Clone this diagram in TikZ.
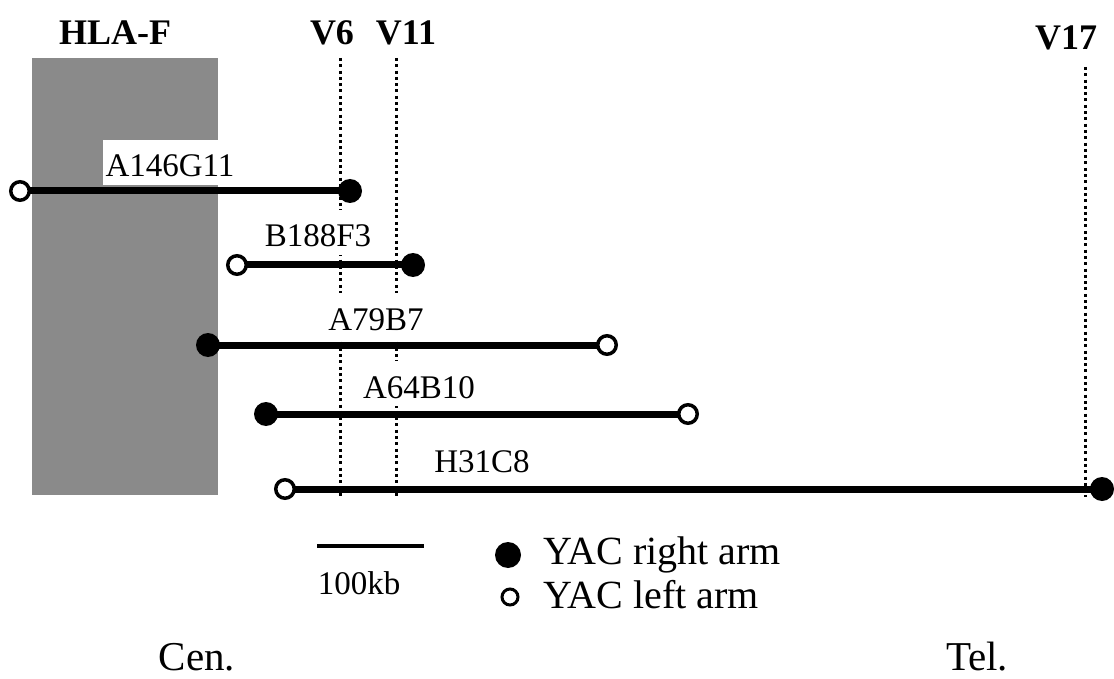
\documentclass[tikz,border=0pt]{standalone}
\usepackage{fontspec}
\setmainfont{Liberation Serif}
\pgfdeclarelayer{paper}
\pgfdeclarelayer{back}
\pgfdeclarelayer{mid}
\pgfsetlayers{paper,back,mid,main}
\definecolor{hlagray}{RGB}{138,138,138}
\tikzset{
  hdr/.style={anchor=base, font=\fontsize{36}{36}\selectfont\bfseries, inner sep=0pt},
  lbl/.style={anchor=base, fill=white, font=\fontsize{33}{33}\selectfont,
              text height=33pt, text depth=4pt, inner ysep=4pt, inner xsep=3pt},
  vline/.style={line width=3pt, dash pattern=on 3pt off 3.3pt},
  yac/.style={line width=7pt},
  rarm/.style={circle, fill=black, minimum size=24pt, inner sep=0pt},
  larm/.style={circle, draw=black, fill=white, line width=3.5pt, minimum size=18.5pt, inner sep=0pt},
  leg/.style={anchor=base west, font=\fontsize{40}{40}\selectfont, inner sep=0pt},
  endlbl/.style={anchor=base, font=\fontsize{41}{41}\selectfont, inner sep=0pt}
}
\begin{document}
\begin{tikzpicture}[x=1pt, y=-1pt]
\useasboundingbox (0,0) rectangle (1114,679);
\begin{pgfonlayer}{paper}
  \fill[white] (0,0) rectangle (1114,679);
\end{pgfonlayer}

% header labels
\node[hdr] (hla) at (115,45) {HLA-F};
\node[hdr] (v6) at (332,45) {V6};
\node[hdr] (v11) at (406,45) {V11};
\node[hdr] (v17) at (1066,50) {V17};

% marker coordinates
\coordinate (v6t) at (340,58);  \coordinate (v6b) at (340,497);
\coordinate (v11t) at (396,58); \coordinate (v11b) at (396,497);
\coordinate (v17t) at (1085,67); \coordinate (v17b) at (1085,497);

\begin{pgfonlayer}{back}
  \fill[hlagray] (32,58) rectangle (218,495);
  \draw[vline] (v6t) -- (v6b);
  \draw[vline] (v11t) -- (v11b);
  \draw[vline] (v17t) -- (v17b);
  \node[lbl] (lA146) at (170,177) {A146G11};
  \node[lbl] (lB188) at (318,247) {B188F3};
  \node[lbl] (lA79) at (376,330) {A79B7};
  \node[lbl] (lA64) at (419,398) {A64B10};
  \node[lbl] (lH31) at (482,472) {H31C8};
\end{pgfonlayer}

% YAC ends
\node[larm] (a146l) at (20,191) {};
\node[rarm] (a146r) at (350,191) {};
\node[larm] (b188l) at (237,265) {};
\node[rarm] (b188r) at (413,265) {};
\node[rarm] (a79r) at (208,345) {};
\node[larm] (a79l) at (607,345) {};
\node[rarm] (a64r) at (266,414) {};
\node[larm] (a64l) at (688,414) {};
\node[larm] (h31l) at (285,489) {};
\node[rarm] (h31r) at (1102,489) {};

\begin{pgfonlayer}{mid}
  \draw[yac] (a146l.center) -- (a146r.center);
  \draw[yac] (b188l.center) -- (b188r.center);
  \draw[yac] (a79r.center) -- (a79l.center);
  \draw[yac] (a64r.center) -- (a64l.center);
  \draw[yac] (h31l.center) -- (h31r.center);
\end{pgfonlayer}

% scale bar
\coordinate (sb1) at (317,546);
\coordinate (sb2) at (424,546);
\draw[line width=4.5pt] (sb1) -- (sb2);
\node[anchor=base, font=\fontsize{33}{33}\selectfont, inner sep=0pt] (sbl) at (359,594) {100kb};

% legend
\node[rarm, minimum size=26pt] (legr) at (508,555) {};
\node[leg] (legrt) at (543,564) {YAC right arm};
\node[larm, line width=3pt, minimum size=16pt] (legl) at (510,597) {};
\node[leg] (leglt) at (543,608) {YAC left arm};

% ends
\node[endlbl] (cen) at (197,670) {Cen.};
\node[endlbl] (tel) at (977,670) {Tel.};
\end{tikzpicture}
\end{document}
